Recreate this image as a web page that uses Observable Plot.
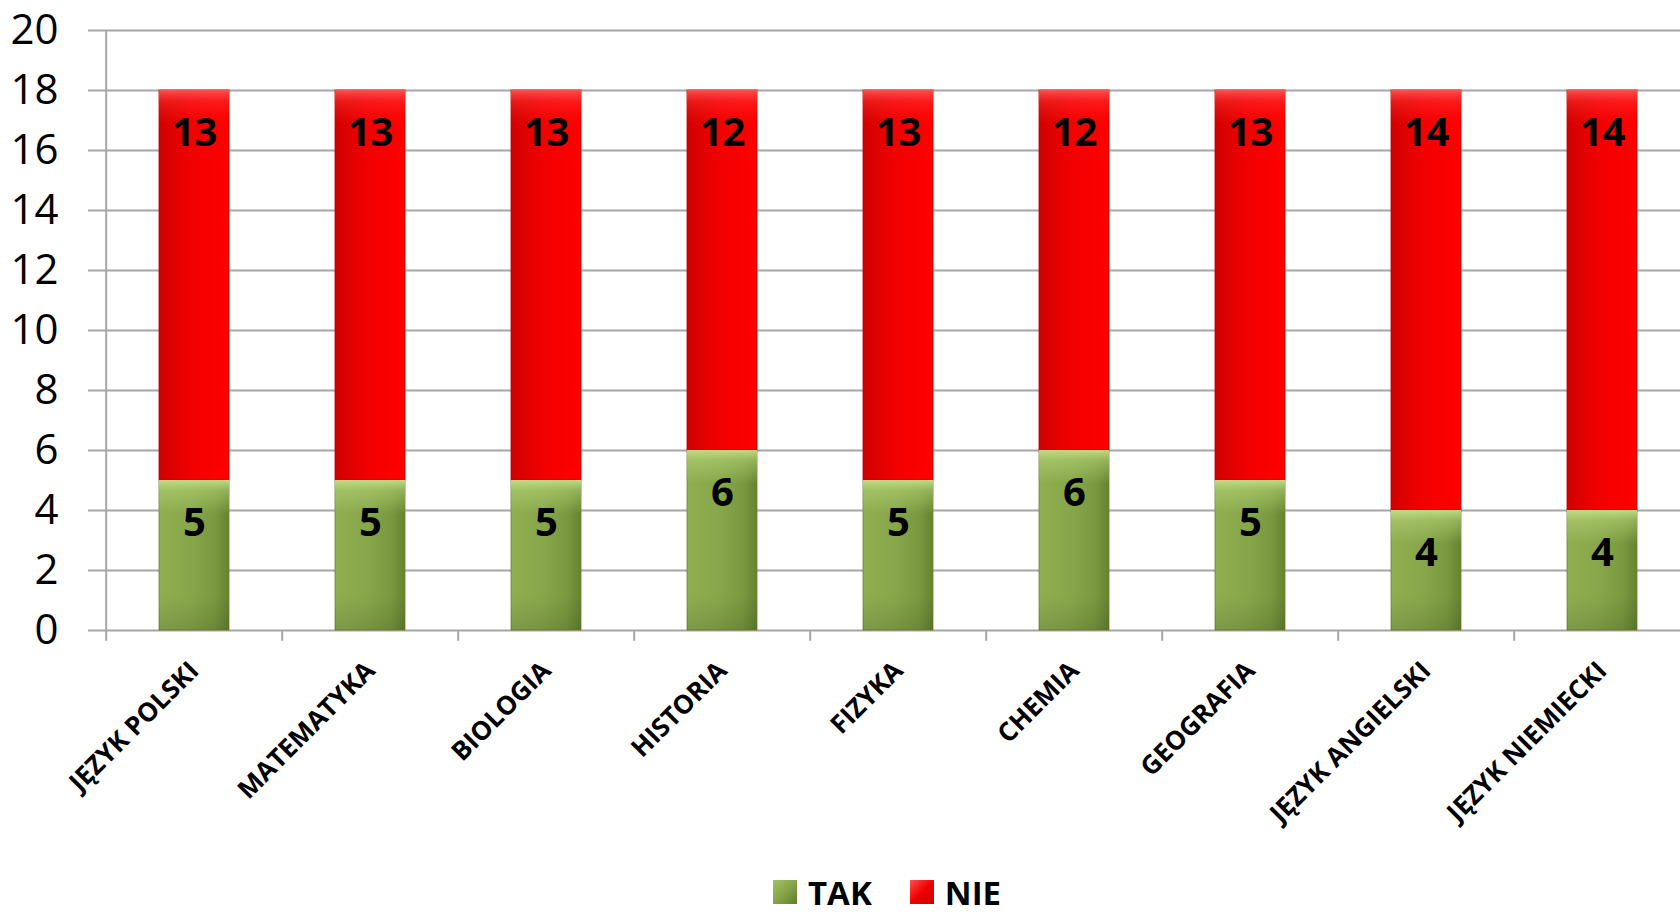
<!DOCTYPE html>
<html>
<head>
<meta charset="utf-8">
<script src="https://cdn.jsdelivr.net/npm/d3@7"></script>
<script src="https://cdn.jsdelivr.net/npm/@observablehq/plot@0.6"></script>
<style>
  html, body { margin: 0; padding: 0; background: #fff; }
  body { width: 1680px; height: 915px; overflow: hidden; position: relative; font-family: "Open Sans", sans-serif; }
  #legend { position: absolute; left: 773px; top: 870px; height: 44px; display: flex; align-items: center; font-weight: bold; font-size: 33px; color: #000; }
  .sw { width: 24px; height: 24px; margin-right: 11px; box-sizing: border-box; }
  .item { display: flex; align-items: center; margin-right: 38px; line-height: 1; }
</style>
</head>
<body>
<div id="chart"></div>
<div id="legend"></div>
<script>
const categories = ["JĘZYK POLSKI", "MATEMATYKA", "BIOLOGIA", "HISTORIA", "FIZYKA", "CHEMIA", "GEOGRAFIA", "JĘZYK ANGIELSKI", "JĘZYK NIEMIECKI"];
const tak = [5, 5, 5, 6, 5, 6, 5, 4, 4];
const nie = [13, 13, 13, 12, 13, 12, 13, 14, 14];
const seriesNames = ["TAK", "NIE"];
const yTicks = [0, 2, 4, 6, 8, 10, 12, 14, 16, 18, 20];

const rows = categories.flatMap((c, i) => [
  {cat: c, series: "TAK", value: tak[i], y1: 0, y2: tak[i]},
  {cat: c, series: "NIE", value: nie[i], y1: tak[i], y2: tak[i] + nie[i]}
]);
const takRows = rows.filter(d => d.series === "TAK");
const nieRows = rows.filter(d => d.series === "NIE");

const xRange = [103, 1693];
const step = (xRange[1] - xRange[0]) / categories.length;
const grid = "#a6a6a6";

const chart = Plot.plot({
  width: 1680,
  height: 860,
  marginTop: 30,
  marginBottom: 230,
  marginLeft: 103,
  marginRight: 0,
  style: {fontFamily: "Open Sans", background: "white", overflow: "visible"},
  x: {domain: categories, range: xRange, paddingInner: 0.604, paddingOuter: 0.302, label: null},
  y: {domain: [0, 20], label: null},
  marks: [
    Plot.ruleY(yTicks, {y: d => d, stroke: grid, strokeWidth: 2}),
    Plot.axisY(yTicks, {tickSize: 15, tickPadding: 30, fontSize: 42, stroke: grid, strokeWidth: 2, fill: "black", label: null, tickFormat: d => String(d)}),
    Plot.ruleX([categories[0]], {x: d => d, dx: -step / 2, y1: 0, y2: 20, stroke: grid, strokeWidth: 2}),
    Plot.ruleX(categories, {x: d => d, dx: -step / 2, y1: 0, y2: -0.36, stroke: grid, strokeWidth: 2}),
    Plot.barY(takRows, {x: "cat", y1: "y1", y2: "y2", fill: "url(#gTAK)", stroke: "#6a8637", strokeWidth: 0.8}),
    Plot.barY(nieRows, {x: "cat", y1: "y1", y2: "y2", fill: "url(#gNIE)", stroke: "#c00000", strokeWidth: 0.8}),
    Plot.barY(takRows, {x: "cat", y1: "y2", y2: "y2", insetBottom: -34, fill: "url(#hiTAK)"}),
    Plot.barY(nieRows, {x: "cat", y1: "y2", y2: "y2", insetBottom: -34, fill: "url(#hiNIE)"}),
    Plot.barY(takRows, {x: "cat", y1: "y1", y2: "y1", insetTop: -34, fill: "url(#lo)"}),
    Plot.text(rows, {x: "cat", y: "y2", text: d => String(d.value), dy: 43, fontSize: 40, fontWeight: "bold", fill: "black"}),
    Plot.axisX({tickRotate: -45, tickSize: 0, tickPadding: 36, fontSize: 26, fontWeight: "bold", fill: "black", label: null})
  ]
});

const ns = "http://www.w3.org/2000/svg";
const defs = document.createElementNS(ns, "defs");
defs.innerHTML = `
  <linearGradient id="gTAK" x1="0" y1="0" x2="1" y2="0">
    <stop offset="0%" stop-color="#8fae50"/>
    <stop offset="45%" stop-color="#88a74a"/>
    <stop offset="80%" stop-color="#7a9940"/>
    <stop offset="100%" stop-color="#64832f"/>
  </linearGradient>
  <linearGradient id="gNIE" x1="0" y1="0" x2="1" y2="0">
    <stop offset="0%" stop-color="#d00000"/>
    <stop offset="45%" stop-color="#f20000"/>
    <stop offset="100%" stop-color="#ff0000"/>
  </linearGradient>
  <linearGradient id="hiTAK" x1="0" y1="0" x2="0" y2="1">
    <stop offset="0%" stop-color="#c4e08a" stop-opacity="0.95"/>
    <stop offset="30%" stop-color="#b0cf73" stop-opacity="0.6"/>
    <stop offset="100%" stop-color="#b0cf73" stop-opacity="0"/>
  </linearGradient>
  <linearGradient id="hiNIE" x1="0" y1="0" x2="0" y2="1">
    <stop offset="0%" stop-color="#ff5a5a" stop-opacity="0.9"/>
    <stop offset="35%" stop-color="#ff3030" stop-opacity="0.5"/>
    <stop offset="100%" stop-color="#ff2020" stop-opacity="0"/>
  </linearGradient>
  <linearGradient id="lo" x1="0" y1="0" x2="0" y2="1">
    <stop offset="0%" stop-color="#000" stop-opacity="0"/>
    <stop offset="100%" stop-color="#000" stop-opacity="0.12"/>
  </linearGradient>`;
chart.insertBefore(defs, chart.firstChild);
document.getElementById("chart").appendChild(chart);

const legendColors = {
  TAK: "linear-gradient(135deg, #a3c264 0%, #86a548 50%, #5f7d2d 100%)",
  NIE: "linear-gradient(135deg, #ff5050 0%, #f00000 50%, #c80000 100%)"
};
const legend = document.getElementById("legend");
for (const s of seriesNames) {
  const item = document.createElement("div");
  item.className = "item";
  const sw = document.createElement("div");
  sw.className = "sw";
  sw.style.background = legendColors[s];
  const label = document.createElement("span");
  label.textContent = s;
  item.appendChild(sw);
  item.appendChild(label);
  legend.appendChild(item);
}
</script>
</body>
</html>
